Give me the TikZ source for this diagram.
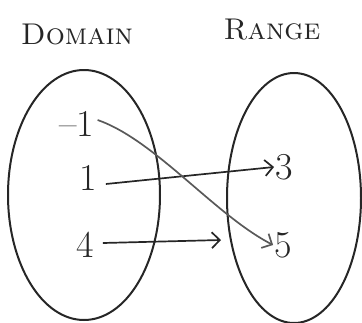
\documentclass[tikz,border=0pt]{standalone}
\usetikzlibrary{shapes.geometric,arrows.meta}
\begin{document}
\begin{tikzpicture}[x=1pt,y=-1pt,
  setshape/.style={ellipse,draw=black!85,line width=2pt,inner sep=0pt},
  num/.style={font=\fontsize{38}{38}\selectfont,text=black!85,inner sep=1pt},
  title/.style={font=\fontsize{30}{30}\selectfont\scshape,text=black!85},
  maparrow/.style={draw=black!85,line width=1.7pt,-{Straight Barb[length=8pt,width=16pt,line width=1.7pt]}}]
\useasboundingbox (0,0) rectangle (362,322);
\node[title] (dt) at (77,34) {Domain};
\node[title] (rt) at (272,30) {Range};
\node[setshape,minimum width=152pt,minimum height=250pt] (dom) at (84,195) {};
\node[setshape,minimum width=134pt,minimum height=250pt] (ran) at (294,198) {};
\node[num] (m1) at (77,124) {--1};
\node[num] (o1) at (88,178) {1};
\node[num] (f4) at (85,245) {4};
\node[num] (t3) at (284,167) {3};
\node[num] (f5) at (283,245) {5};
\coordinate (e4) at (221,240);
\draw[maparrow] (o1.east) ++(8,6) -- (t3.west);
\draw[maparrow,draw=black!65] (m1.east) ++(2,-4) .. controls (155,140) and (215,215) .. (f5.west);
\draw[maparrow] (f4.east) ++(8,-2) -- (e4);
\end{tikzpicture}
\end{document}
